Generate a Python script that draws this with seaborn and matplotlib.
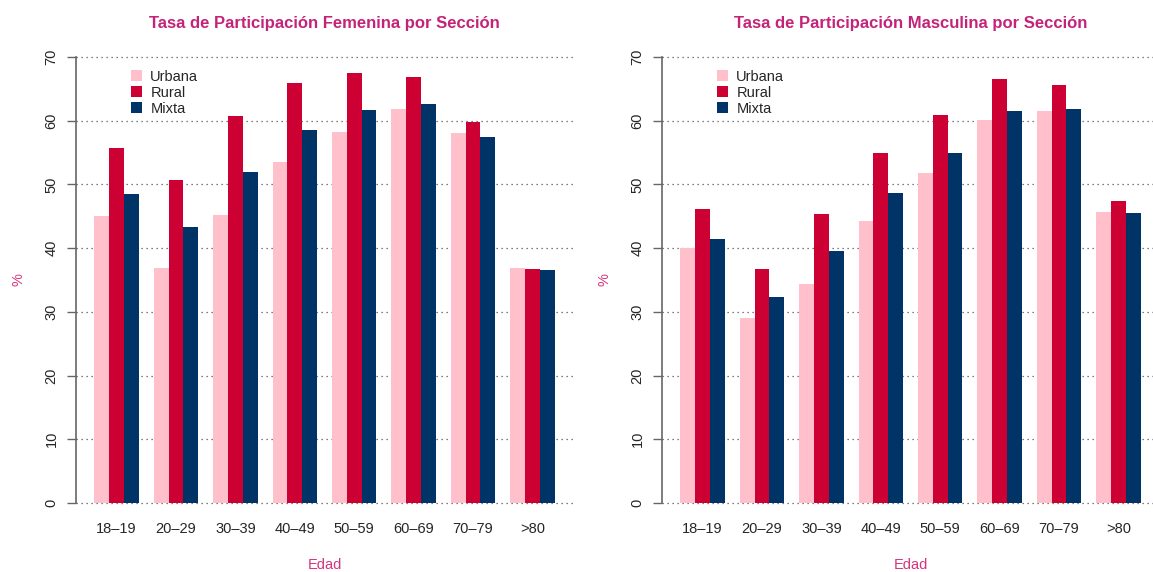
import matplotlib
matplotlib.use("Agg")
import matplotlib.pyplot as plt
import seaborn as sns
import pandas as pd
from matplotlib.patches import Patch

edades = ["18\u201319", "20\u201329", "30\u201339", "40\u201349", "50\u201359", "60\u201369", "70\u201379", ">80"]
secciones = ["Urbana", "Rural", "Mixta"]

fem_urbana = [45.0, 36.9, 45.2, 53.5, 58.2, 61.8, 58.0, 36.9]
fem_rural = [55.7, 50.7, 60.8, 66.0, 67.5, 66.9, 59.8, 36.8]
fem_mixta = [48.5, 43.3, 52.0, 58.5, 61.7, 62.7, 57.5, 36.5]

mas_urbana = [40.0, 29.1, 34.4, 44.3, 51.8, 60.1, 61.5, 45.7]
mas_rural = [46.1, 36.7, 45.4, 55.0, 60.9, 66.6, 65.6, 47.4]
mas_mixta = [41.4, 32.3, 39.5, 48.7, 55.0, 61.5, 61.9, 45.5]

titles = ["Tasa de Participaci\u00f3n Femenina por Secci\u00f3n",
          "Tasa de Participaci\u00f3n Masculina por Secci\u00f3n"]
colors = ["#FFC0CB", "#CC0033", "#003366"]
title_color = "#C4237A"
label_color = "#D6337F"


def long_df(u, r, m):
    rows = []
    for vals, sec in zip([u, r, m], secciones):
        for e, v in zip(edades, vals):
            rows.append({"Edad": e, "Seccion": sec, "Valor": v})
    return pd.DataFrame(rows)


sns.set_theme(style="white")
plt.rcParams["font.family"] = ["Liberation Sans", "DejaVu Sans"]

fig = plt.figure(figsize=(11.53, 5.72), dpi=100)
W, H = 1153, 572
bottom = 1 - 520.8 / H
height = (520.8 - 39.2) / H
width = 497 / W
ax1 = fig.add_axes([76 / W, bottom, width, height])
ax2 = fig.add_axes([662 / W, bottom, width, height])

datasets = [(fem_urbana, fem_rural, fem_mixta), (mas_urbana, mas_rural, mas_mixta)]

for ax, data, title in zip([ax1, ax2], datasets, titles):
    df = long_df(*data)
    ax.set_axisbelow(True)
    ax.yaxis.grid(True, linestyle=(0, (1, 3)), color="#555555", linewidth=0.9)
    sns.barplot(data=df, x="Edad", y="Valor", hue="Seccion", order=edades,
                hue_order=secciones, palette=colors, width=0.75, gap=0,
                linewidth=0, saturation=1, ax=ax, legend=False)
    ax.set_xlim(-0.685, 7.685)
    ax.set_ylim(-2.8, 72.8)
    ax.set_yticks(range(0, 71, 10))
    ax.set_yticklabels([str(v) for v in range(0, 71, 10)], rotation=90, va="center", fontsize=10.5)
    for s in ["top", "right", "bottom"]:
        ax.spines[s].set_visible(False)
    ax.spines["left"].set_bounds(0, 70)
    ax.spines["left"].set_color("#666666")
    ax.spines["left"].set_linewidth(1.2)
    ax.tick_params(axis="y", which="both", left=True, length=6.5, width=1.0, color="#666666", pad=6)
    ax.tick_params(axis="x", which="both", bottom=False, length=0, pad=1, labelsize=10.5)
    ax.set_xlabel("Edad", color=label_color, fontsize=10.5, labelpad=16)
    ax.set_ylabel("%", color=label_color, fontsize=10.5, labelpad=14)
    ax.set_title(title, color=title_color, fontsize=12, fontweight="bold", pad=8)
    handles = [Patch(facecolor=c, edgecolor="none") for c in colors]
    ax.legend(handles, secciones, loc="upper left", bbox_to_anchor=(0.11, 0.937),
              frameon=False, handlelength=0.75, handleheight=0.75, handletextpad=0.6,
              labelspacing=0.15, borderpad=0, borderaxespad=0, fontsize=10.5)

fig.savefig("out.png", dpi=100)
